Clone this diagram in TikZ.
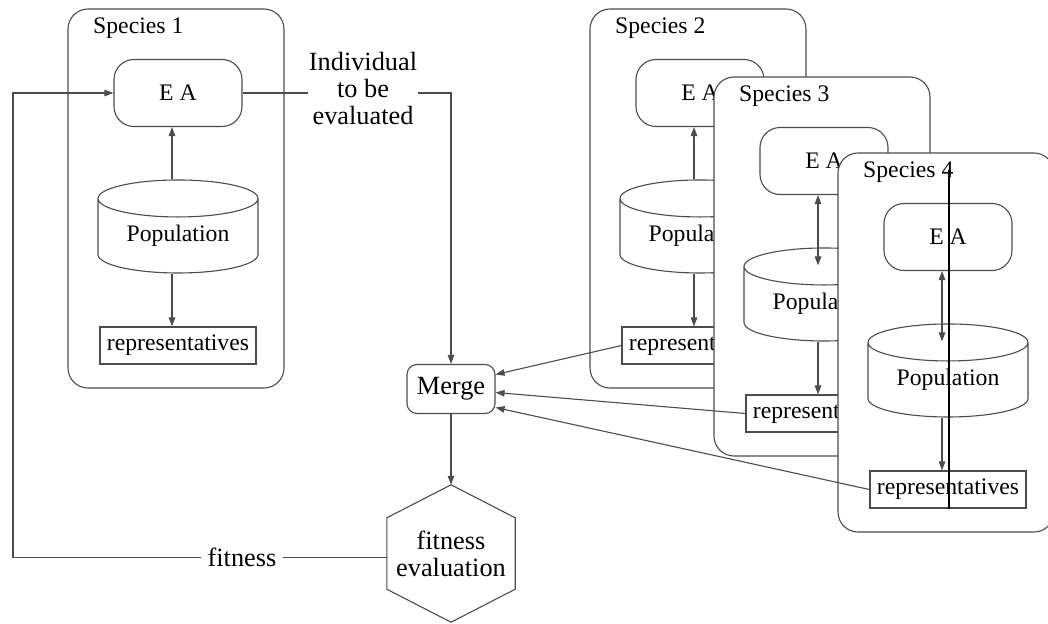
\documentclass[tikz,border=0pt]{standalone}
\usepackage{fontspec}
\setmainfont{Liberation Serif}
\usetikzlibrary{shapes.geometric,arrows.meta}

\tikzset{
	>={Triangle[length=9pt,width=6.5pt]},
	thinline/.style={draw=black!70, line width=1.1pt},
	spbox/.style={thinline, fill=white, rounded corners=20pt},
	splbl/.style={anchor=west, inner sep=0pt, font=\fontsize{23.7}{28}\selectfont},
	eabox/.style={thinline, rounded corners=20pt, minimum width=128pt, minimum height=67pt, inner sep=0pt, font=\fontsize{23.7}{28}\selectfont},
	popcyl/.style={thinline, cylinder, shape border rotate=90, aspect=0.36, minimum width=160pt, minimum height=93pt, inner sep=0pt, font=\fontsize{23.7}{28}\selectfont},
	repbox/.style={thinline, minimum width=156pt, minimum height=37pt, inner sep=0pt, font=\fontsize{23.7}{28}\selectfont},
	mergebox/.style={thinline, rounded corners=10pt, minimum width=88pt, minimum height=49pt, inner sep=0pt, font=\fontsize{26.3}{27}\selectfont},
	lbl/.style={inner sep=1pt, align=center, font=\fontsize{26.3}{27}\selectfont},
	conn/.style={thinline, ->}
}

\begin{document}
\begin{tikzpicture}[x=1pt, y=-1pt]
	\clip (0,0) rectangle (1048,623);

	% species 1
	\draw[spbox] (68,9) rectangle (284,388);
	\node[splbl] (lbl1) at (93,28) {Species 1};
	\node[eabox] (ea1) at (178,93) {E A};
	\node[popcyl] (pop1) at (178,236) {Population};
	\node[repbox] (rep1) at (178,345.5) {representatives};
	\draw[conn] ([xshift=-6pt]pop1.top) -- ([xshift=-6pt]ea1.south);
	\draw[conn] ([xshift=-6pt]pop1.bottom) -- ([xshift=-6pt]rep1.north);

	% species 2
	\draw[spbox] (590,9) rectangle (806,388);
	\node[splbl] (lbl2) at (615,28) {Species 2};
	\node[eabox] (ea2) at (700,93) {E A};
	\node[popcyl] (pop2) at (700,236) {Population};
	\node[repbox] (rep2) at (700,345.5) {representatives};
	\draw[conn] ([xshift=-6pt]pop2.top) -- ([xshift=-6pt]ea2.south);
	\draw[conn] ([xshift=-6pt]pop2.bottom) -- ([xshift=-6pt]rep2.north);

	% species 3
	\draw[spbox] (714,77) rectangle (930,456);
	\node[splbl] (lbl3) at (739,96) {Species 3};
	\node[eabox] (ea3) at (824,161) {E A};
	\node[popcyl] (pop3) at (824,304) {Population};
	\node[repbox] (rep3) at (824,413.5) {representatives};
	\draw[conn, <->] ([xshift=-6pt]ea3.south) -- ([xshift=-6pt, yshift=-18pt]pop3.top);
	\draw[conn] ([xshift=-6pt]pop3.bottom) -- ([xshift=-6pt]rep3.north);

	% species 4
	\draw[spbox] (838,153) rectangle (1054,532);
	\node[splbl] (lbl4) at (863,172) {Species 4};
	\node[eabox] (ea4) at (948,237) {E A};
	\node[popcyl] (pop4) at (948,380) {Population};
	\node[repbox] (rep4) at (948,489.5) {representatives};
	\draw[conn, <->] ([xshift=-6pt]ea4.south) -- ([xshift=-6pt, yshift=-18pt]pop4.top);
	\draw[conn] ([xshift=-6pt]pop4.bottom) -- ([xshift=-6pt]rep4.north);
	\coordinate (mark4) at (949,170);
	\draw[line width=2pt] (mark4) -- (mark4 |- rep4.south);

	% merge and evaluation
	\node[mergebox] (merge) at (451,389) {Merge};
	\node[lbl] (indiv) at (363,89) {Individual\\to be\\evaluated};
	\node[lbl, minimum width=128pt, minimum height=137pt] (fiteval) at (451,553.5) {fitness\\evaluation};
	\draw[thinline] (fiteval.north) -- ([yshift=-33pt]fiteval.north east) -- ([yshift=33pt]fiteval.south east)
		-- (fiteval.south) -- ([yshift=33pt]fiteval.south west) -- ([yshift=-33pt]fiteval.north west) -- cycle;
	\node[lbl, inner xsep=6pt] (fitlbl) at (242,557.5) {fitness};
	\coordinate (fbx) at (13,0);

	\draw[thinline] (ea1.east) -- (ea1.east -| indiv.west);
	\draw[conn] (ea1.east -| indiv.east) -| (merge);
	\draw[conn] (merge) -- (fiteval.north);
	\draw[conn] (rep2.west) -- ([yshift=14.5pt]merge.east);
	\draw[conn] (rep3.west) -- ([yshift=-3.5pt]merge.east);
	\draw[conn] (rep4.west) -- ([yshift=-18.5pt]merge.east);
	\draw[thinline] (fiteval.west |- fitlbl) -- (fitlbl);
	\draw[conn] (fitlbl) -- (fitlbl -| fbx) |- (ea1);
\end{tikzpicture}
\end{document}
